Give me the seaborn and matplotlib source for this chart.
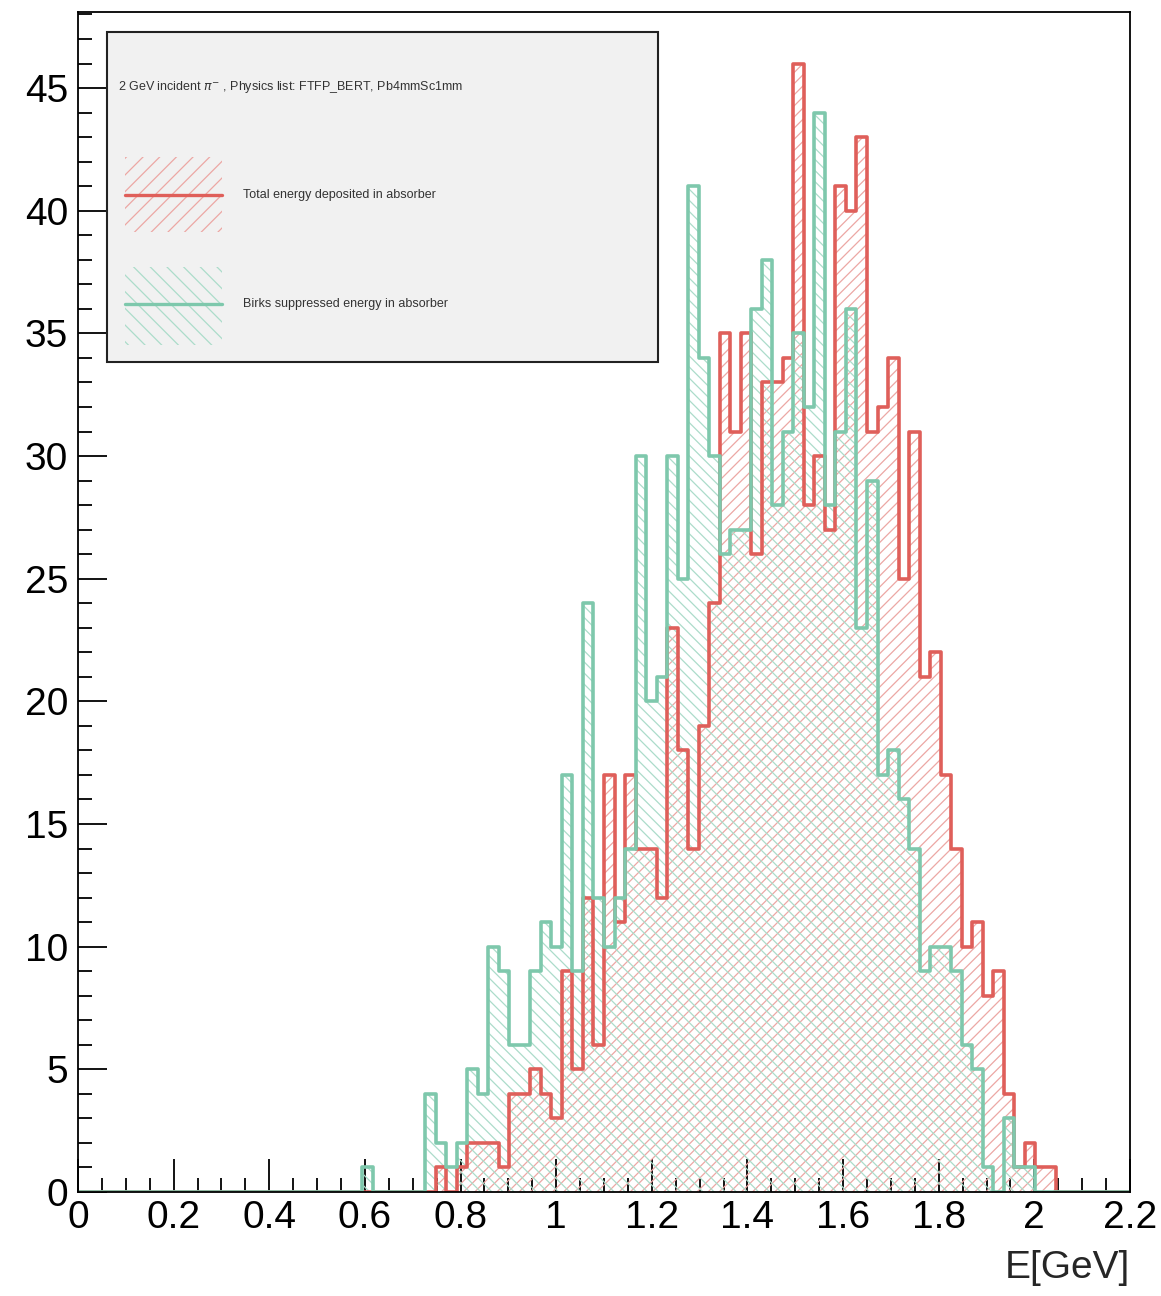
import numpy as np
import pandas as pd
import seaborn as sns
import matplotlib
matplotlib.use("Agg")
import matplotlib.pyplot as plt
from matplotlib.patches import Rectangle
from matplotlib.lines import Line2D
from matplotlib.ticker import MultipleLocator, FuncFormatter

# ---------------------------------------------------------------- data
# 100 energy bins between 0 and 2.2 GeV
e_min, e_max, n_bins = 0.0, 2.2, 100

# Total energy deposited in the absorber (entries per bin)
total_counts = [
    0, 0, 0, 0, 0, 0, 0, 0, 0, 0,
    0, 0, 0, 0, 0, 0, 0, 0, 0, 0,
    0, 0, 0, 0, 0, 0, 0, 0, 0, 0,
    0, 0, 0, 0, 1, 0, 1, 2, 2, 2,
    1, 4, 4, 5, 4, 3, 9, 5, 12, 6,
    17, 11, 17, 14, 14, 12, 23, 18, 14, 19,
    24, 35, 31, 35, 26, 33, 33, 34, 46, 28,
    30, 27, 41, 40, 43, 31, 32, 34, 25, 31,
    21, 22, 17, 14, 10, 11, 8, 9, 4, 1,
    2, 1, 1, 0, 0, 0, 0, 0, 0, 0,
]

# Birks-suppressed energy in the absorber (entries per bin)
birks_counts = [
    0, 0, 0, 0, 0, 0, 0, 0, 0, 0,
    0, 0, 0, 0, 0, 0, 0, 0, 0, 0,
    0, 0, 0, 0, 0, 0, 0, 1, 0, 0,
    0, 0, 0, 4, 2, 1, 2, 5, 4, 10,
    9, 6, 6, 9, 11, 10, 17, 9, 24, 12,
    10, 12, 14, 30, 20, 21, 30, 25, 41, 34,
    30, 26, 27, 27, 36, 38, 28, 31, 35, 32,
    44, 28, 31, 36, 23, 29, 17, 18, 16, 14,
    9, 10, 10, 9, 6, 5, 1, 0, 3, 1,
    1, 0, 0, 0, 0, 0, 0, 0, 0, 0,
]

header_text = r"2 GeV incident $\pi^{-}$ , Physics list: FTFP_BERT, Pb4mmSc1mm"
total_label = "Total energy deposited in absorber"
birks_label = "Birks suppressed energy in absorber"
x_title = "E[GeV]"

# ---------------------------------------------------------------- style
RED = "#df5f5a"
RED_HATCH = "#eca7a4"
GREEN = "#7ec8ac"
GREEN_HATCH = "#acdcca"

W, H, DPI = 1161, 1296, 100

sns.set_theme(style="ticks", rc={"axes.edgecolor": "black",
                                 "xtick.color": "black",
                                 "ytick.color": "black"})
plt.rcParams["font.family"] = ["Liberation Sans", "DejaVu Sans"]
plt.rcParams["hatch.linewidth"] = 0.9

edges = np.linspace(e_min, e_max, n_bins + 1)
centers = 0.5 * (edges[:-1] + edges[1:])
hist_df = pd.DataFrame({"E": centers, "total": total_counts, "birks": birks_counts})

fig = plt.figure(figsize=(W / DPI, H / DPI), dpi=DPI)
fig.patch.set_facecolor("white")
ax = fig.add_axes([78 / W, 1 - 1192 / H, (1130 - 78) / W, (1192 - 12) / H])


def draw_hist(column, line_color, hatch_color, hatch):
    n0 = len(ax.collections)
    sns.histplot(data=hist_df, x="E", weights=column, bins=n_bins,
                 binrange=(e_min, e_max), element="step", fill=True,
                 color=line_color, linewidth=0, ax=ax)
    for coll in ax.collections[n0:]:
        coll.set_facecolor("none")
        coll.set_edgecolor(hatch_color)
        coll.set_hatch(hatch)
        coll.set_linewidth(0)
    sns.histplot(data=hist_df, x="E", weights=column, bins=n_bins,
                 binrange=(e_min, e_max), element="step", fill=False,
                 color=line_color, linewidth=2.6, ax=ax)


draw_hist("total", RED, RED_HATCH, "///")
draw_hist("birks", GREEN, GREEN_HATCH, "\\\\\\")

# ---------------------------------------------------------------- axes
ax.set_xlim(e_min, e_max)
ax.set_ylim(0, 48.1)
ax.set_ylabel("")
ax.set_xlabel(x_title, fontsize=28, loc="right")
ax.xaxis.set_label_coords(1.0, -(1268 - 1192) / (1192 - 12))
ax.xaxis.label.set_va("center")

ax.xaxis.set_major_locator(MultipleLocator(0.2))
ax.xaxis.set_minor_locator(MultipleLocator(0.05))
ax.yaxis.set_major_locator(MultipleLocator(5))
ax.yaxis.set_minor_locator(MultipleLocator(1))
ax.xaxis.set_major_formatter(FuncFormatter(lambda v, p: f"{round(v, 3):g}"))
ax.yaxis.set_major_formatter(FuncFormatter(lambda v, p: f"{round(v, 3):g}"))

ax.tick_params(which="both", direction="in", top=False, right=False,
               width=1.3, color="black")
ax.tick_params(axis="x", which="major", length=24, pad=6, labelsize=28)
ax.tick_params(axis="x", which="minor", length=10)
ax.tick_params(axis="y", which="major", length=21, pad=7, labelsize=28)
ax.tick_params(axis="y", which="minor", length=10)

for side in ["left", "right", "top", "bottom"]:
    ax.spines[side].set_visible(True)
    ax.spines[side].set_color("black")
    ax.spines[side].set_linewidth(1.3)


# ---------------------------------------------------------------- legend box
def fx(px):
    return px / W


def fy(py):
    return 1 - py / H


tf = fig.transFigure
fig.add_artist(Rectangle((fx(107), fy(362)), fx(658) - fx(107), fy(32) - fy(362),
                         transform=tf, facecolor="#f1f1f1", edgecolor="#222222",
                         linewidth=1.5, zorder=10))
fig.text(fx(118), fy(87), header_text, fontsize=9, color="#333333",
         ha="left", va="center", zorder=11)

entries = [
    (total_label, RED, RED_HATCH, "//", 157, 232, 195),
    (birks_label, GREEN, GREEN_HATCH, "\\\\", 267, 345, 304),
]
for label, lc, hc, hatch, top, bottom, mid in entries:
    fig.add_artist(Rectangle((fx(125), fy(bottom)), fx(222) - fx(125), fy(top) - fy(bottom),
                             transform=tf, facecolor="none", edgecolor=hc,
                             hatch=hatch, linewidth=0, zorder=11))
    fig.add_artist(Line2D([fx(125), fx(222)], [fy(mid), fy(mid)], transform=tf,
                          color=lc, linewidth=2.4, zorder=12))
    fig.text(fx(243), fy(mid), label, fontsize=9, color="#333333",
             ha="left", va="center", zorder=12)

fig.savefig("out.png", dpi=DPI, facecolor="white")
